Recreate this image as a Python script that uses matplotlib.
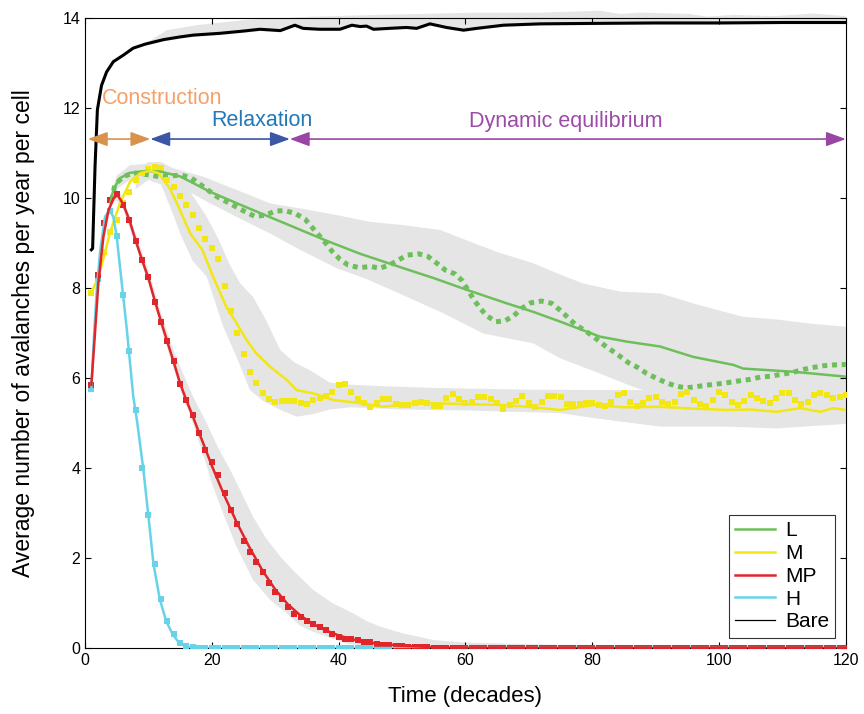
import matplotlib.pyplot as plt
import numpy as np
from matplotlib.patches import FancyArrowPatch

plt.rcParams['font.family'] = ['Liberation Sans', 'DejaVu Sans']

# colours
GREEN = '#6dbf5b'
YELLOW = '#f2e614'
RED = '#e0262b'
CYAN = '#66d3e8'
BAND = '#e5e5e5'

# ---- solid curves ----
bare_x = [1, 1.2, 1.58, 1.95, 2.6, 3.4, 4.47, 6.0, 7.6, 9.5, 12.4, 15, 17.1, 21.3, 25, 27.6,
          30.8, 33.1, 34.4, 37, 40.2, 42.1, 43.4, 44.4, 45.5, 48, 50.7, 52.3, 54.4, 57, 59.7,
          61.8, 66, 71.8, 80, 90, 100, 110, 120]
bare_y = [8.85, 8.88, 10.7, 11.96, 12.5, 12.8, 13.03, 13.17, 13.33, 13.42, 13.52, 13.58, 13.62,
          13.66, 13.71, 13.75, 13.72, 13.84, 13.77, 13.75, 13.75, 13.84, 13.81, 13.82, 13.75,
          13.77, 13.79, 13.77, 13.87, 13.79, 13.73, 13.77, 13.84, 13.87, 13.88, 13.89, 13.89,
          13.9, 13.9]

L_x = [4, 4.5, 5.5, 7.1, 9.7, 11.8, 15, 19.7, 24, 28.4, 33, 38.1, 43.4, 50, 55, 60.2, 66.5,
       70.7, 75, 81.2, 85.4, 90.7, 95.9, 102.3, 103.8, 111.7, 120]
L_y = [9.9, 10.2, 10.44, 10.56, 10.6, 10.59, 10.48, 10.14, 9.88, 9.62, 9.35, 9.05, 8.76, 8.45,
       8.22, 7.96, 7.66, 7.47, 7.25, 6.92, 6.81, 6.70, 6.47, 6.29, 6.21, 6.14, 6.03]

# dotted L curve
Ld_x = [4.2, 4.7, 6.0, 7.6, 10.3, 11.8, 15.2, 16.8, 18.1, 20.8, 22.3, 25.2, 26.8, 28.5, 30,
        31.5, 33.1, 34.7, 35.8, 38.0, 39, 40.2, 41.5, 43.3, 45, 46.5, 48, 49.4, 50.8, 52.6,
        54.1, 55.5, 56.8, 58.4, 59.5, 61.2, 62.3, 63.4, 64.8, 66.2, 67.6, 68.9, 70.3, 72,
        73.6, 74.9, 76.2, 77.4, 78.9, 80.2, 81.5, 82.8, 84.3, 85.7, 87.1, 88.6, 90.2, 91.6,
        93.2, 94.8, 96.5, 98, 99.9, 101.5, 103.3, 104.9, 106.5, 108.2, 109.7, 111.5, 113,
        114.6, 116.3, 118, 120]
Ld_y = [9.95, 10.29, 10.47, 10.56, 10.51, 10.47, 10.51, 10.44, 10.31, 10.03, 9.92, 9.70, 9.59,
        9.62, 9.71, 9.72, 9.66, 9.53, 9.35, 8.99, 8.81, 8.64, 8.51, 8.45, 8.48, 8.44, 8.51,
        8.62, 8.73, 8.76, 8.70, 8.55, 8.40, 8.31, 8.16, 7.77, 7.55, 7.38, 7.25, 7.27, 7.38,
        7.55, 7.67, 7.71, 7.66, 7.51, 7.34, 7.18, 7.05, 6.92, 6.77, 6.64, 6.49, 6.34, 6.24,
        6.10, 5.99, 5.90, 5.82, 5.78, 5.81, 5.84, 5.87, 5.90, 5.94, 5.97, 6.02, 6.04, 6.08,
        6.12, 6.18, 6.23, 6.27, 6.29, 6.30]

M_x = [1, 2, 3, 3.9, 5.5, 7.1, 8.7, 10.3, 11.6, 12.6, 13.4, 14.5, 16.6, 18.5, 20.2, 22.3,
       23.9, 25.5, 27, 29.2, 31.8, 33.4, 36, 39.2, 43, 47, 51, 54.9, 60, 65.5, 70, 74.9, 80.2,
       85, 90.7, 96, 101.2, 105, 109.1, 112.8, 116, 118, 120]
M_y = [7.9, 8.2, 8.7, 9.21, 9.88, 10.36, 10.55, 10.61, 10.55, 10.36, 10.21, 9.88, 9.21, 8.85,
       8.25, 7.58, 7.22, 6.84, 6.55, 6.25, 5.96, 5.73, 5.66, 5.51, 5.45, 5.36, 5.42, 5.44,
       5.42, 5.40, 5.36, 5.29, 5.40, 5.35, 5.36, 5.32, 5.29, 5.30, 5.25, 5.33, 5.25, 5.33, 5.29]

MP_x = [1, 1.5, 2.1, 2.9, 3.7, 4.5, 5.1, 6, 7, 8, 9, 10, 11, 12, 13, 14, 15, 16, 17, 18, 19,
        20, 22, 24, 26, 28, 30, 32, 34, 36, 38, 40, 42, 44, 46, 50, 55, 60, 70, 120]
MP_y = [5.85, 6.85, 8.1, 9.14, 9.73, 9.99, 10.07, 9.87, 9.51, 9.05, 8.62, 8.22, 7.72, 7.25,
        6.8, 6.35, 5.88, 5.5, 5.15, 4.78, 4.42, 4.05, 3.38, 2.77, 2.22, 1.72, 1.3, 0.97, 0.72,
        0.53, 0.39, 0.28, 0.2, 0.14, 0.1, 0.05, 0.02, 0.005, 0, 0]

H_x = [1, 1.4, 1.85, 2.4, 3.15, 3.85, 4.47, 5.0, 5.8, 6.6, 7.6, 8.2, 9.2, 10.0, 10.8, 11.8,
       12.8, 13.8, 14.9, 16.1, 18, 20, 120]
H_y = [5.75, 6.9, 7.96, 8.84, 9.58, 9.73, 9.58, 9.14, 8.1, 7.07, 5.6, 5.05, 3.97, 2.93, 1.87,
       1.08, 0.6, 0.31, 0.1, 0.03, 0.01, 0, 0]

# ---- per-decade observations (square markers) ----
decades = list(range(1, 121))
M_obs = [7.9, 8.3, 8.8, 9.24, 9.51, 9.9, 10.13, 10.4, 10.55, 10.64,
         10.68, 10.66, 10.41, 10.24, 10.04, 9.84, 9.62, 9.33, 9.10, 8.90,
         8.64, 8.04, 7.50, 7.00, 6.53, 6.13, 5.90, 5.66, 5.53, 5.47,
         5.48, 5.50, 5.48, 5.45, 5.42, 5.51, 5.56, 5.61, 5.68, 5.84,
         5.87, 5.68, 5.53, 5.45, 5.36, 5.45, 5.53, 5.53, 5.42, 5.39,
         5.41, 5.45, 5.47, 5.44, 5.38, 5.38, 5.55, 5.65, 5.53, 5.45,
         5.47, 5.57, 5.57, 5.53, 5.45, 5.31, 5.40, 5.50, 5.61, 5.45,
         5.36, 5.47, 5.61, 5.61, 5.57, 5.42, 5.42, 5.42, 5.44, 5.44,
         5.40, 5.38, 5.47, 5.62, 5.66, 5.47, 5.38, 5.44, 5.55, 5.57,
         5.47, 5.42, 5.47, 5.64, 5.68, 5.52, 5.42, 5.38, 5.51, 5.68,
         5.62, 5.46, 5.39, 5.49, 5.62, 5.55, 5.49, 5.44, 5.55, 5.66,
         5.66, 5.51, 5.42, 5.47, 5.62, 5.67, 5.62, 5.55, 5.57, 5.62]
MP_obs = [5.85, 8.3, 9.45, 9.95, 10.08, 9.85, 9.51, 9.05, 8.62, 8.24,
          7.70, 7.24, 6.82, 6.38, 5.86, 5.51, 5.18, 4.78, 4.41, 4.14,
          3.84, 3.44, 3.07, 2.75, 2.38, 2.14, 1.92, 1.68, 1.45, 1.24,
          1.08, 0.92, 0.76, 0.68, 0.61, 0.53, 0.46, 0.40, 0.32, 0.25,
          0.21, 0.19, 0.18, 0.14, 0.13, 0.09, 0.07, 0.06, 0.05, 0.04,
          0.03, 0.03, 0.02, 0.02, 0.01] + [0.0] * 65
H_obs = [5.75, 8.2, 9.45, 9.72, 9.15, 7.85, 6.6, 5.3, 4.0, 2.95,
         1.87, 1.08, 0.6, 0.31, 0.12, 0.04, 0.02, 0.01, 0.0, 0.0] + [0.0] * 100

# ---- grey uncertainty bands ----
bare_hi_x = [9.2, 12.9, 17.6, 25.5, 36, 46.5, 62.3, 71.8, 81.2, 84.4, 87.6, 95.4, 98.1, 102.3,
             108.6, 114.9, 120]
bare_hi_y = [13.4, 13.73, 13.84, 13.96, 14.03, 14.07, 14.12, 14.12, 14.16, 14.09, 14.12, 14.09,
             14.03, 14.07, 14.04, 14.1, 14.04]

L_hi_x = [4, 5, 7.1, 10.8, 15, 18.7, 23.9, 29.2, 33.9, 39.7, 45, 50, 56, 60, 65, 70.7, 74.9,
          78.6, 84.4, 90.7, 95.9, 100, 103.8, 109.1, 115, 120]
L_hi_y = [10.0, 10.5, 10.73, 10.77, 10.62, 10.47, 10.18, 9.88, 9.77, 9.62, 9.47, 9.4, 9.29,
          9.07, 8.8, 8.55, 8.3, 8.1, 7.92, 7.88, 7.66, 7.5, 7.36, 7.3, 7.2, 7.14]
L_lo_x = [4, 5, 7.1, 10.8, 15, 18.7, 23.9, 29.2, 33.9, 39.7, 44.4, 50, 56.5, 62.8, 70.7,
          74.9, 81.2, 86.5, 90, 95, 100, 110, 120]
L_lo_y = [9.7, 10.2, 10.4, 10.4, 10.25, 9.96, 9.58, 9.21, 8.85, 8.44, 8.2, 7.85, 7.44, 6.99,
          6.77, 6.44, 6.1, 5.8, 5.65, 5.6, 5.6, 5.6, 5.6]

M_hi_x = [8, 10, 12, 14, 15, 17, 19.2, 21, 22.9, 24.5, 26.5, 28.5, 30.8, 33, 35.5, 38.6, 42,
          46.5, 55, 70, 90, 105, 120]
M_hi_y = [10.6, 10.8, 10.8, 10.65, 10.5, 10.05, 9.58, 9.1, 8.5, 8.1, 7.8, 7.3, 6.62, 6.35,
          6.17, 5.9, 5.85, 5.82, 5.78, 5.74, 5.73, 5.72, 5.72]
M_lo_x = [8, 10, 12, 14, 15, 17, 19.2, 21.8, 23.9, 26, 28, 30.8, 33.4, 36, 38.6, 42, 50,
          60, 75, 80.2, 90.7, 101.2, 109, 120]
M_lo_y = [10.2, 10.4, 10.3, 9.6, 9.21, 8.6, 8.25, 7.14, 6.47, 5.73, 5.5, 5.29, 5.14, 5.2,
          5.3, 5.35, 5.3, 5.28, 5.22, 5.11, 4.92, 4.92, 4.88, 4.98]

MP_hi_x = [4, 5, 6, 8, 10, 12, 14, 15, 17, 19.2, 21, 22.9, 24.5, 26.5, 28.5, 30.8, 33, 36,
           39, 42.3, 44.4, 46.5, 50, 54.9, 60, 75, 120]
MP_hi_y = [10.1, 10.2, 10.0, 9.2, 8.4, 7.45, 6.6, 6.25, 5.6, 4.99, 4.45, 3.96, 3.5, 2.92,
           2.45, 2.03, 1.7, 1.29, 1.0, 0.77, 0.6, 0.48, 0.33, 0.18, 0.12, 0.07, 0.06]
MP_lo_x = [4, 5, 6, 8, 10, 12, 14, 15, 17, 18.9, 20.2, 21.8, 23.9, 26.5, 29.2, 31.8, 33.9,
           36, 41.3, 45, 50, 120]
MP_lo_y = [9.8, 9.95, 9.75, 8.95, 8.1, 7.1, 6.2, 5.75, 5.0, 4.18, 3.58, 2.99, 2.25, 1.51,
           1.07, 0.77, 0.5, 0.36, 0.1, 0.03, 0.0, 0.0]

series = ['L', 'M', 'MP', 'H', 'Bare']

fig = plt.figure(figsize=(8.64, 7.14), dpi=100)
ax = fig.add_axes([0.0984, 0.0924, 0.8806, 0.8824])


def band(xh, yh, xl, yl, clip=True):
    px = np.concatenate([np.asarray(xh, float), np.asarray(xl, float)[::-1]])
    py = np.concatenate([np.asarray(yh, float), np.asarray(yl, float)[::-1]])
    ax.fill(px, py, color=BAND, lw=0, zorder=1, clip_on=clip)


# bare band: from the upper edge down to just under the black line
bx = np.array(bare_x)
keep = bx >= 9.5
band(bare_hi_x, bare_hi_y, bx[keep], np.array(bare_y)[keep] - 0.04, clip=False)
band(L_hi_x, L_hi_y, L_lo_x, L_lo_y)
band(M_hi_x, M_hi_y, M_lo_x, M_lo_y)
band(MP_hi_x, MP_hi_y, MP_lo_x, MP_lo_y)

# dotted / marker observations
ax.plot(Ld_x, Ld_y, color=GREEN, lw=3.6, linestyle=(0, (1, 0.95)),
        dash_capstyle='butt', zorder=3)
ax.plot(decades, M_obs, 's', color=YELLOW, ms=4, mew=0, zorder=3)
ax.plot(decades, H_obs, 's', color=CYAN, ms=4, mew=0, zorder=3)
ax.plot(decades, MP_obs, 's', color=RED, ms=4, mew=0, zorder=3)

# model curves
ax.plot(L_x, L_y, color=GREEN, lw=1.8, zorder=4, label=series[0])
ax.plot(M_x, M_y, color=YELLOW, lw=1.8, zorder=4, label=series[1])
ax.plot(H_x, H_y, color=CYAN, lw=1.8, zorder=4)
ax.plot(MP_x, MP_y, color=RED, lw=1.8, zorder=5, label=series[2])
ax.plot([], [], color=CYAN, lw=1.8, label=series[3])
ax.plot(bare_x, bare_y, color='black', lw=2.2, zorder=6)
ax.plot([], [], color='black', lw=0.9, label=series[4])

# phase arrows
arrow_y = 11.31
phases = [(0.45, 10.3, '#d9924e', 'Construction', '#f4a068', 12.2, 12.22),
          (10.3, 32.3, '#3b56a4', 'Relaxation', '#2378b6', 27.9, 11.73),
          (32.3, 120, '#9a44a4', 'Dynamic equilibrium', '#9c4aa8', 75.9, 11.71)]
for x0, x1, c, txt, tc, tx, ty in phases:
    ar = FancyArrowPatch((x0, arrow_y), (x1, arrow_y),
                         arrowstyle='<|-|>,head_length=0.6,head_width=0.22',
                         mutation_scale=20, color=c, lw=1.2, shrinkA=0, shrinkB=0,
                         zorder=6, clip_on=False)
    ax.add_patch(ar)
    ax.text(tx, ty, txt, color=tc, fontsize=15.5, ha='center', va='center')

ax.set_xlim(0, 120)
ax.set_ylim(0, 14)
ax.set_xticks([0, 20, 40, 60, 80, 100, 120])
ax.set_yticks([0, 2, 4, 6, 8, 10, 12, 14])
ax.tick_params(direction='in', top=True, right=True, length=4, width=0.8,
               labelsize=11.5)
for s in ax.spines.values():
    s.set_linewidth(0.8)
ax.set_xlabel('Time (decades)', fontsize=16, labelpad=13)
ax.set_ylabel('Average number of avalanches per year per cell', fontsize=16.5,
              labelpad=20)

leg = ax.legend(loc='lower right', fontsize=15, frameon=True, fancybox=False,
                edgecolor='black', handlelength=1.9, labelspacing=0.18,
                borderaxespad=0.5, handletextpad=0.5, borderpad=0.3)
leg.get_frame().set_linewidth(0.8)
leg.set_zorder(10)

fig.savefig('out.png', dpi=100)
